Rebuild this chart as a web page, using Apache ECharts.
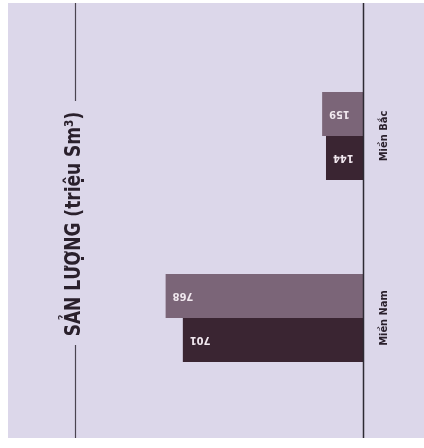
<!DOCTYPE html>
<html>
<head>
<meta charset="utf-8">
<script src="https://cdn.jsdelivr.net/npm/echarts@6/dist/echarts.min.js"></script>
<style>
  html, body { margin: 0; padding: 0; background: #ffffff; }
  #chart { width: 424px; height: 448px; }
</style>
</head>
<body>
<div id="chart"></div>
<script>
// Regions and gas output (million Sm³), two periods per region
const regions = ['Miền Bắc', 'Miền Nam'];
const outputLight = [159, 768];
const outputDark = [144, 701];
const titleText = 'SẢN LƯỢNG (triệu Sm³)';

const FONT = '"DejaVu Sans Condensed", "Liberation Sans Narrow", sans-serif';
const chart = echarts.init(document.getElementById('chart'), null, { renderer: 'canvas' });

function valueLabel() {
  return {
    show: true,
    position: 'insideLeft',
    distance: 7,
    rotate: 180,
    align: 'right',
    verticalAlign: 'middle',
    color: '#f1e8ef',
    fontFamily: FONT,
    fontWeight: 'bold',
    fontSize: 11
  };
}

chart.setOption({
  backgroundColor: '#ffffff',
  animation: false,
  graphic: [
    { type: 'rect', z: -10, shape: { x: 8, y: 3, width: 416, height: 435 }, style: { fill: '#dcd7ea' } },
    // baseline of the bars
    { type: 'line', z: 10, shape: { x1: 363.5, y1: 3, x2: 363.5, y2: 438 }, style: { stroke: '#2d2a33', lineWidth: 1.5 } },
    // rule carrying the vertical title
    { type: 'line', shape: { x1: 75.5, y1: 3, x2: 75.5, y2: 101 }, style: { stroke: '#4a4450', lineWidth: 1.2 } },
    { type: 'line', shape: { x1: 75.5, y1: 345, x2: 75.5, y2: 438 }, style: { stroke: '#4a4450', lineWidth: 1.2 } },
    {
      type: 'text', x: 74, y: 224, rotation: Math.PI / 2, scaleX: 0.86,
      style: {
        text: titleText, align: 'center', verticalAlign: 'middle',
        fill: '#2a202c', font: 'bold 22px ' + FONT
      }
    }
  ],
  grid: { left: 106, right: 61, top: 45, height: 364 },
  xAxis: {
    type: 'value', inverse: true, min: 0, max: 1000,
    show: false
  },
  yAxis: {
    type: 'category', data: regions, inverse: true, position: 'right',
    axisLine: { show: false }, axisTick: { show: false },
    axisLabel: {
      rotate: 90, margin: 16, color: '#2a202c',
      fontFamily: FONT, fontWeight: 'bold', fontSize: 11
    }
  },
  series: [
    {
      type: 'bar', data: outputLight, barWidth: 44, barGap: '0%',
      itemStyle: { color: '#7b6578' }, label: valueLabel()
    },
    {
      type: 'bar', data: outputDark, barWidth: 44, barGap: '0%',
      itemStyle: { color: '#3a2532' }, label: valueLabel()
    }
  ]
});
</script>
</body>
</html>
